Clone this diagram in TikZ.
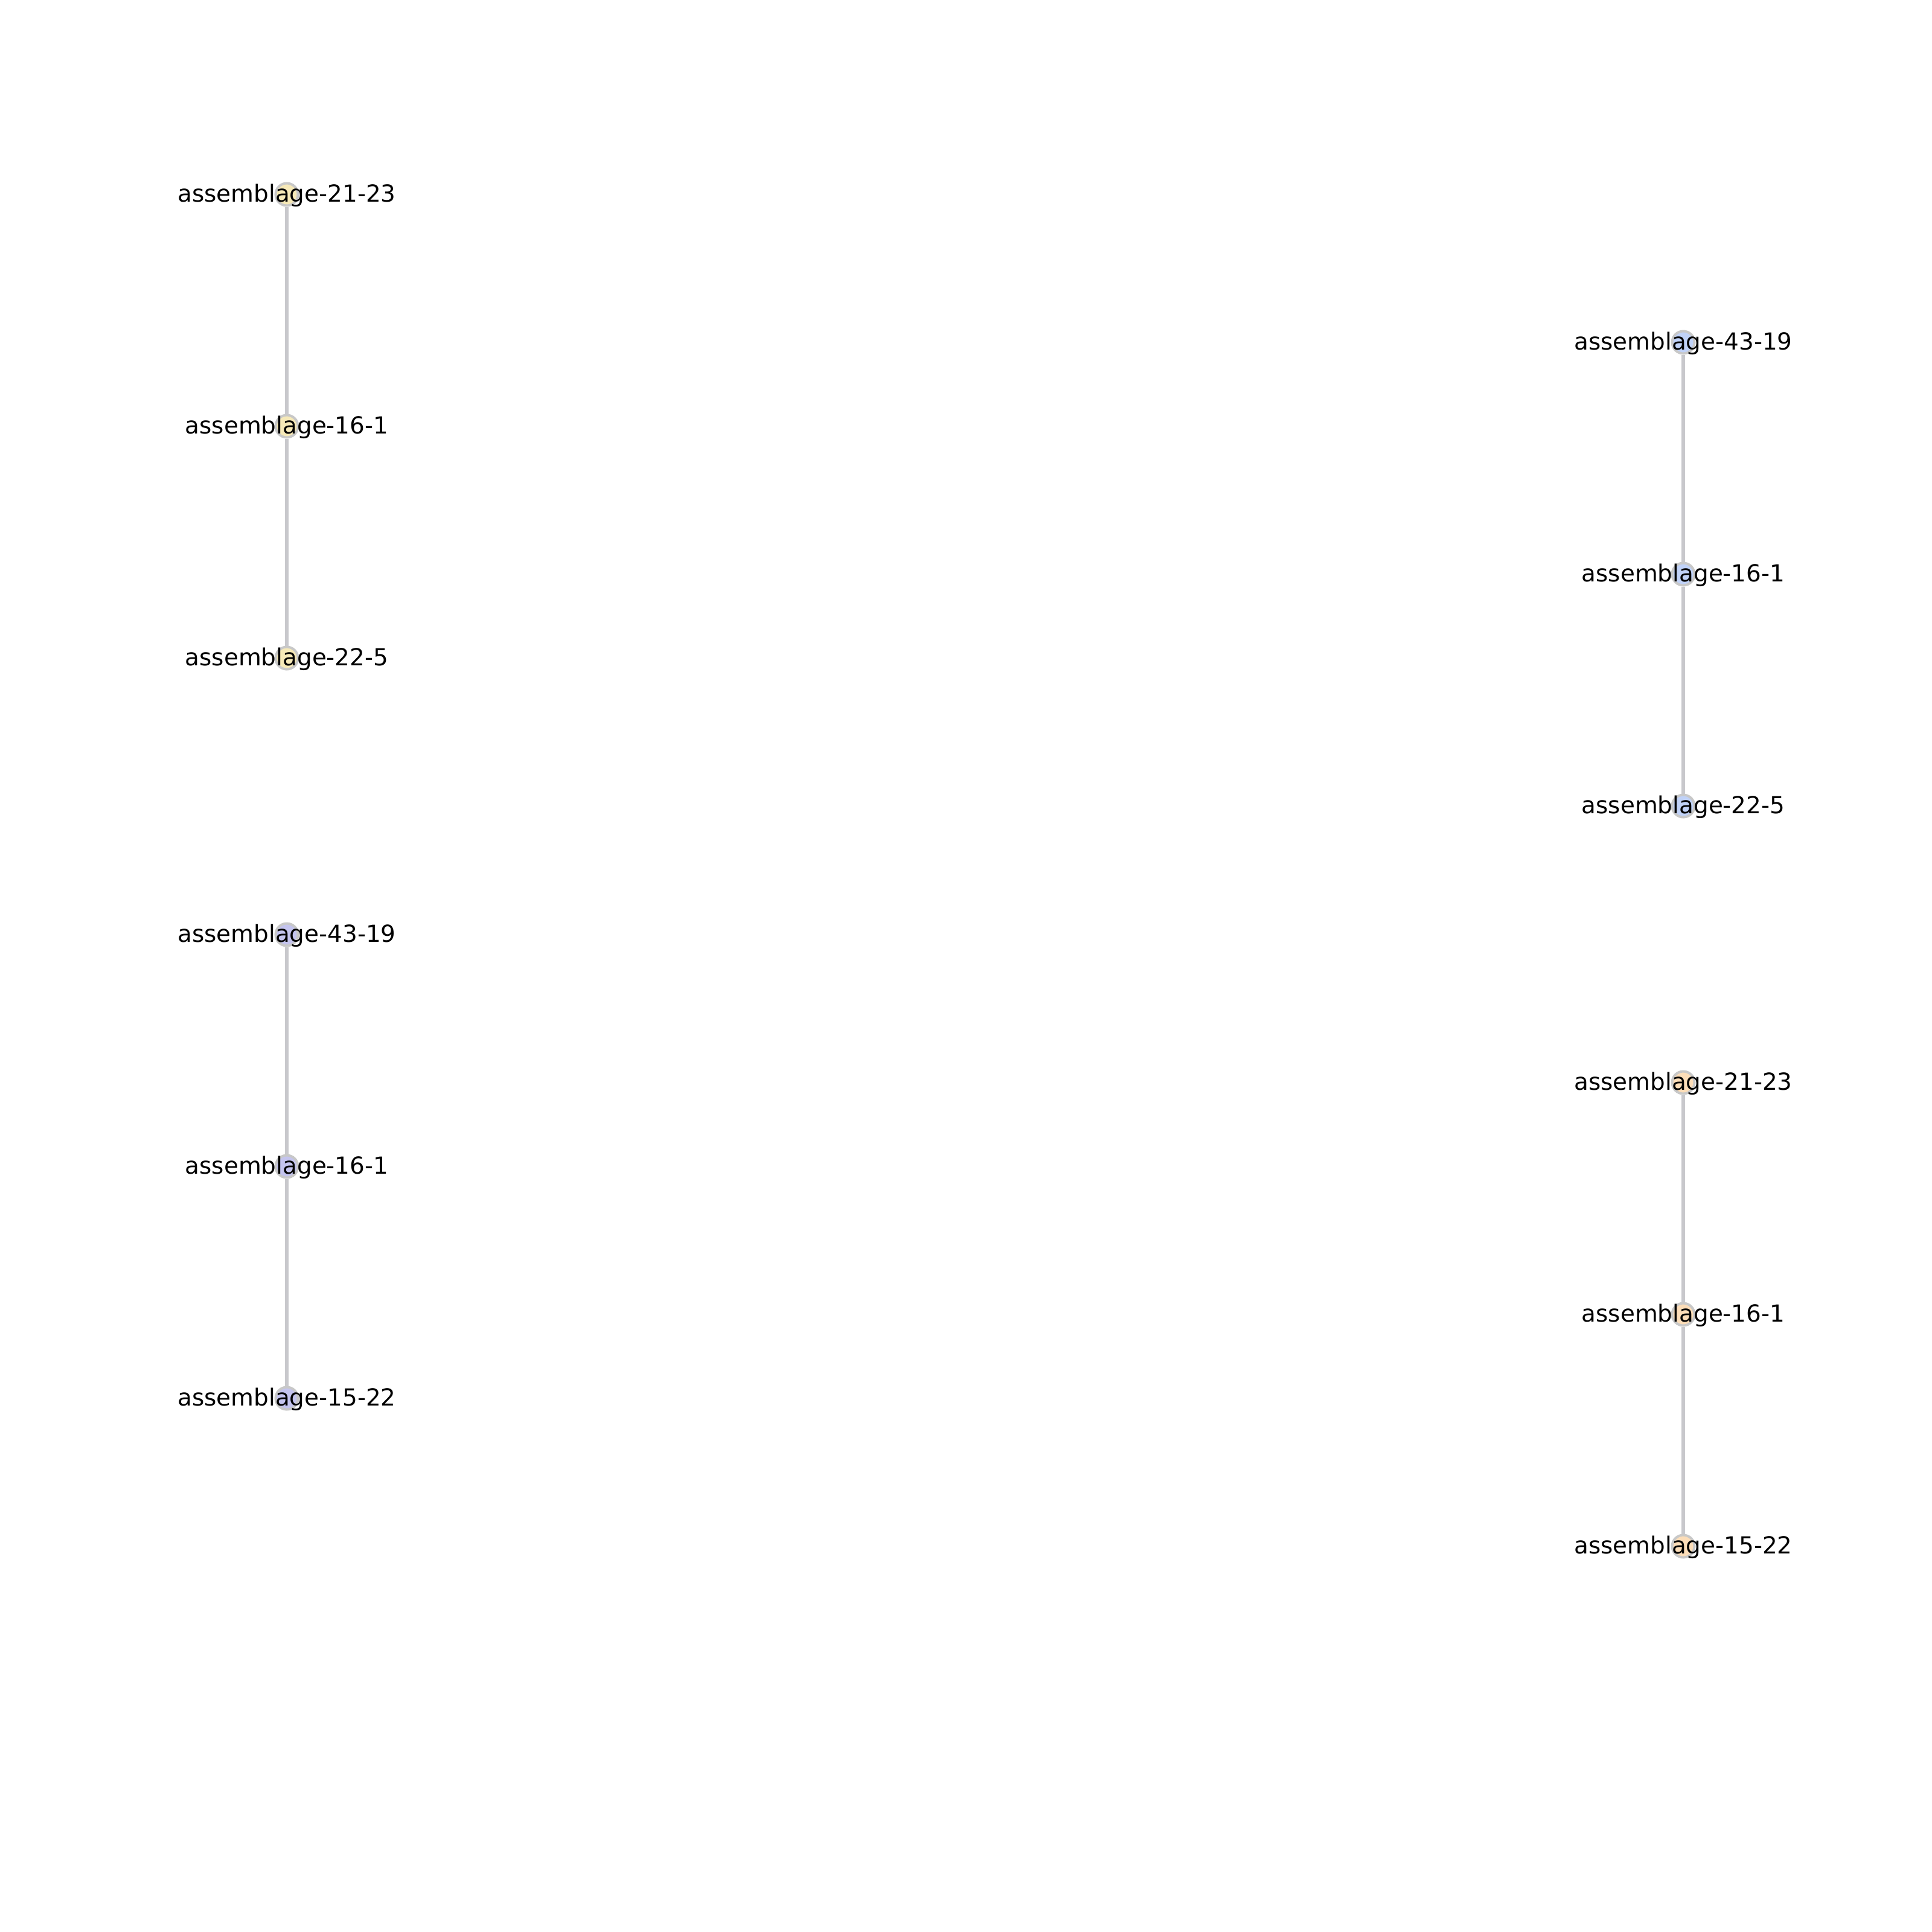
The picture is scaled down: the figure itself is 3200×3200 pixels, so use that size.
\documentclass[tikz,border=0pt]{standalone}
\usepackage{fontspec}
\setmainfont{DejaVu Sans}
\definecolor{cyel}{HTML}{F6E9B8}
\definecolor{clav}{HTML}{C4C4EE}
\definecolor{cblu}{HTML}{C0D2F8}
\definecolor{cpea}{HTML}{FCDDB8}
\definecolor{cedge}{HTML}{C8C8CC}
\definecolor{cring}{HTML}{C8C8C8}
\begin{document}
\begin{tikzpicture}[x=0.36pt,y=-0.36pt,
  dot/.style={circle,minimum size=37*0.36pt,inner sep=0pt,draw=cring,line width=4*0.36pt},
  lbl/.style={font=\fontsize{14pt}{16pt}\selectfont,text=black,inner sep=0pt,anchor=center,yshift=-2*0.36pt},
  edge/.style={draw=cedge,line width=5.5*0.36pt}]
\fill[white] (0,0) rectangle (3200,3200);
\useasboundingbox (0,0) rectangle (3200,3200);
% dots
\node[dot,fill=cyel] (a1) at (475,322) {};
\node[dot,fill=cyel] (a2) at (475,706) {};
\node[dot,fill=cyel] (a3) at (475,1090) {};
\node[dot,fill=clav] (b1) at (475,1548) {};
\node[dot,fill=clav] (b2) at (475,1932) {};
\node[dot,fill=clav] (b3) at (475,2316) {};
\node[dot,fill=cblu] (c1) at (2788,567) {};
\node[dot,fill=cblu] (c2) at (2788,951) {};
\node[dot,fill=cblu] (c3) at (2788,1335) {};
\node[dot,fill=cpea] (d1) at (2788,1793) {};
\node[dot,fill=cpea] (d2) at (2788,2177) {};
\node[dot,fill=cpea] (d3) at (2788,2561) {};
% edges
\draw[edge] (a1) -- (a2);
\draw[edge] (a2) -- (a3);
\draw[edge] (b1) -- (b2);
\draw[edge] (b2) -- (b3);
\draw[edge] (c1) -- (c2);
\draw[edge] (c2) -- (c3);
\draw[edge] (d1) -- (d2);
\draw[edge] (d2) -- (d3);
% labels
\node[lbl] (ta1) at (a1) {assemblage-21-23};
\node[lbl] (ta2) at (a2) {assemblage-16-1};
\node[lbl] (ta3) at (a3) {assemblage-22-5};
\node[lbl] (tb1) at (b1) {assemblage-43-19};
\node[lbl] (tb2) at (b2) {assemblage-16-1};
\node[lbl] (tb3) at (b3) {assemblage-15-22};
\node[lbl] (tc1) at (c1) {assemblage-43-19};
\node[lbl] (tc2) at (c2) {assemblage-16-1};
\node[lbl] (tc3) at (c3) {assemblage-22-5};
\node[lbl] (td1) at (d1) {assemblage-21-23};
\node[lbl] (td2) at (d2) {assemblage-16-1};
\node[lbl] (td3) at (d3) {assemblage-15-22};
\end{tikzpicture}
\end{document}
